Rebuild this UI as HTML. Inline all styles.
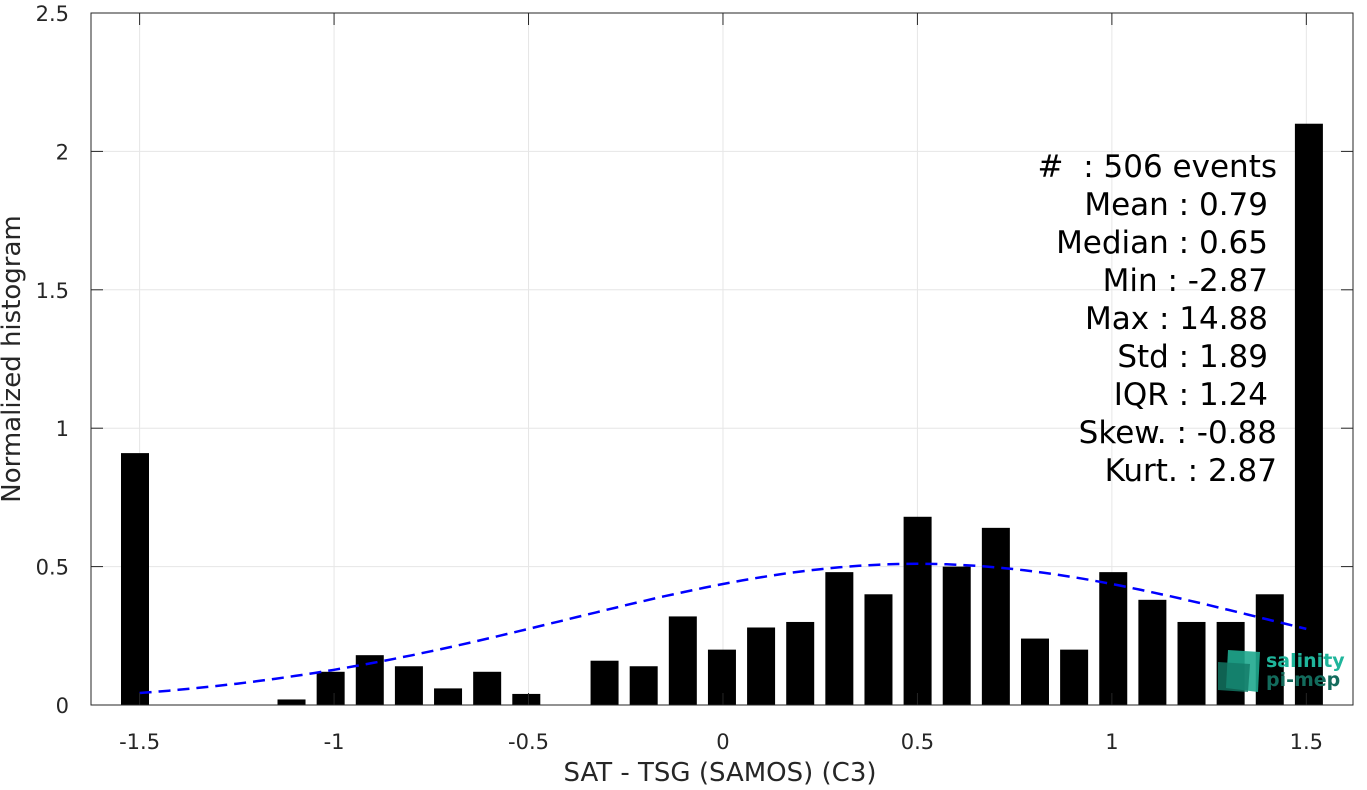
<!DOCTYPE html>
<html><head><meta charset="utf-8"><style>
body{margin:0;background:#fff;}
svg text{font-family:"DejaVu Sans","Liberation Sans",sans-serif;}
</style></head><body>
<svg id="chart" width="1367" height="785" xmlns="http://www.w3.org/2000/svg">
<g id="grid"></g>
<g id="bars"></g>
<path id="fit" fill="none" stroke="#0000ff" stroke-width="2.5" stroke-dasharray="12,7"/>
<rect x="91" y="13" width="1262" height="692" fill="none" stroke="#262626" stroke-width="1"/>
<g id="ticks"></g>
<text x="720" y="781" font-size="26" fill="#262626" text-anchor="middle">SAT - TSG (SAMOS) (C3)</text>
<text transform="translate(20,359) rotate(-90)" font-size="26" fill="#262626" text-anchor="middle">Normalized histogram</text>
<g font-size="31" fill="#000" text-anchor="end">
<text x="1277" y="177">#&#160; : 506 events</text>
<text x="1268" y="215">Mean : 0.79</text>
<text x="1268" y="253">Median : 0.65</text>
<text x="1268" y="291">Min : -2.87</text>
<text x="1268" y="329">Max : 14.88</text>
<text x="1268" y="367">Std : 1.89</text>
<text x="1268" y="405">IQR : 1.24</text>
<text x="1277" y="443">Skew. : -0.88</text>
<text x="1277" y="481">Kurt. : 2.87</text>
</g>
<g>
<polygon points="1228,650 1260,652 1258,692 1226,688" fill="#1fa88e" opacity="0.9"/>
<polygon points="1218,662 1250,664 1248,692 1218,690" fill="#137a66" opacity="0.8"/>
<text x="1266" y="667" font-size="19" font-weight="bold" fill="#1fb59b">salinity</text>
<text x="1266" y="686" font-size="19" font-weight="bold" fill="#136b5c">pi-mep</text>
</g>
</svg>
<script>
const binCenters=[-1.5,-1.4,-1.3,-1.2,-1.1,-1.0,-0.9,-0.8,-0.7,-0.6,-0.5,-0.4,-0.3,-0.2,-0.1,0,0.1,0.2,0.3,0.4,0.5,0.6,0.7,0.8,0.9,1.0,1.1,1.2,1.3,1.4,1.5];
const binValues=[0.91,0,0,0,0.02,0.12,0.18,0.14,0.06,0.12,0.04,0,0.16,0.14,0.32,0.20,0.28,0.30,0.48,0.40,0.68,0.50,0.64,0.24,0.20,0.48,0.38,0.30,0.30,0.40,2.10];
const xTicks=[-1.5,-1,-0.5,0,0.5,1,1.5];
const xTickLabels=["-1.5","-1","-0.5","0","0.5","1","1.5"];
const yTicks=[0,0.5,1,1.5,2,2.5];
const yTickLabels=["0","0.5","1","1.5","2","2.5"];
const fitMean=0.5, fitStd=0.9, fitAmp=0.51;
const X0=91,X1=1353,Y0=705,Y1=13,xmin=-1.625,xmax=1.62,ymin=0,ymax=2.5;
const sx=v=>X0+(v-xmin)/(xmax-xmin)*(X1-X0);
const sy=v=>Y0-(v-ymin)/(ymax-ymin)*(Y0-Y1);
const NS="http://www.w3.org/2000/svg";
const mk=(t,a,p)=>{const e=document.createElementNS(NS,t);for(const k in a)e.setAttribute(k,a[k]);p.appendChild(e);return e;};
const grid=document.getElementById('grid'),ticks=document.getElementById('ticks'),bars=document.getElementById('bars');
xTicks.forEach((v,i)=>{
 const g=mk('line',{x1:sx(v),x2:sx(v),y1:Y1,y2:Y0,stroke:'#e6e6e6'},grid);
 
 
 mk('line',{x1:sx(v),x2:sx(v),y1:Y0,y2:Y0-12,stroke:'#262626'},ticks);
 mk('line',{x1:sx(v),x2:sx(v),y1:Y1,y2:Y1+12,stroke:'#262626'},ticks);
 const t=mk('text',{x:sx(v),y:Y0+44,'font-size':21,fill:'#262626','text-anchor':'middle'},ticks);
 t.textContent=xTickLabels[i];
 
 
});
yTicks.forEach((v,i)=>{
 const g=mk('line',{x1:X0,x2:X1,y1:sy(v),y2:sy(v),stroke:'#e6e6e6'},grid);
 
 
 mk('line',{x1:X0,x2:X0+12,y1:sy(v),y2:sy(v),stroke:'#262626'},ticks);
 mk('line',{x1:X1,x2:X1-12,y1:sy(v),y2:sy(v),stroke:'#262626'},ticks);
 const t=mk('text',{x:X0-22,y:sy(v)+8,'font-size':21,fill:'#262626','text-anchor':'end'},ticks);
 t.textContent=yTickLabels[i];
 
 
});
const bw=0.072, bx=c=>135+(c+1.5)*391.3;
binCenters.forEach((c,i)=>{
 const v=binValues[i];
 const r=mk('rect',{x:bx(c)-14,y:sy(v),width:28,height:sy(0)-sy(v),fill:'#000'},bars);
 
 
});
let d='';
for(let k=0;k<=120;k++){const x=-1.5+3*k/120;const y=fitAmp*Math.exp(-((x-fitMean)**2)/(2*fitStd*fitStd));d+=(k?'L':'M')+sx(x).toFixed(1)+','+sy(y).toFixed(1);}
document.getElementById('fit').setAttribute('d',d);
</script>
</body></html>
